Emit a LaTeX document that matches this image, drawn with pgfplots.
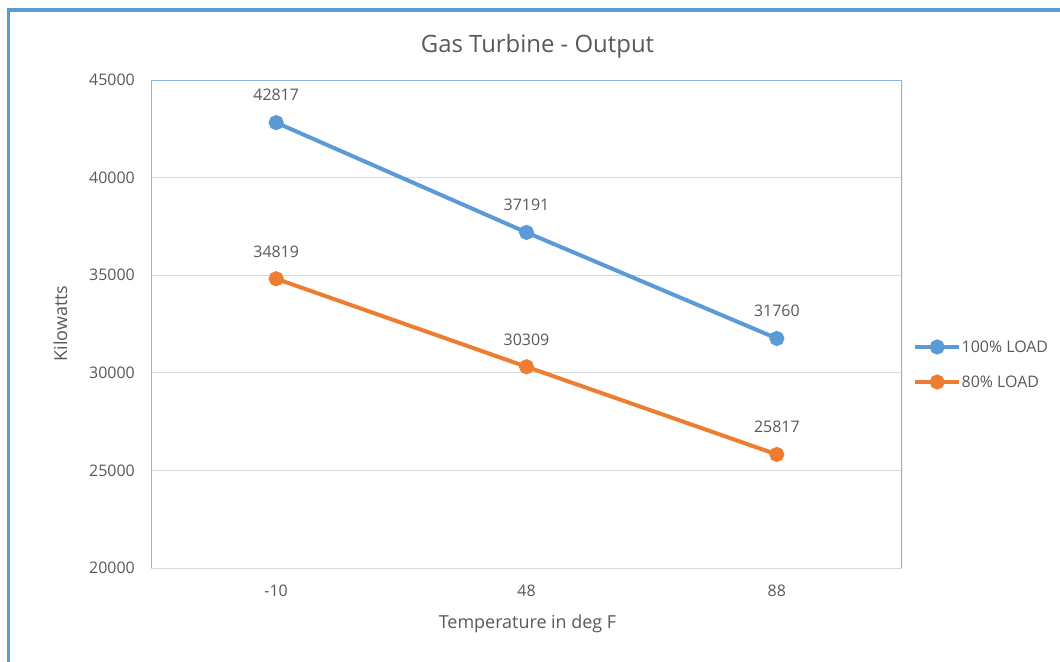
\documentclass[border=0pt]{standalone}
\usepackage{pgfplots}
\pgfplotsset{compat=1.18}
\usepackage{fontspec}
\setmainfont{Open Sans}
\definecolor{txt}{HTML}{595959}
\definecolor{sone}{HTML}{5B9BD5}
\definecolor{stwo}{HTML}{ED7D31}
\definecolor{gridc}{HTML}{D9D9D9}
\definecolor{framec}{HTML}{5B9BD5}
\definecolor{pac}{HTML}{8DB4E2}
\begin{document}
\begin{tikzpicture}
\path[use as bounding box] (0bp,0bp) rectangle (1060bp,-662bp);
\fill[white] (0bp,0bp) rectangle (1060bp,-662bp);
\draw[framec, line width=3.5bp] (8.5bp,-670bp) -- (8.5bp,-10bp) -- (1060bp,-10bp);
\node[anchor=base, font=\fontsize{24}{28}\selectfont, text=txt] at (537.5bp,-52bp) {Gas Turbine - Output};
\node[anchor=base, font=\fontsize{18}{22}\selectfont, text=txt] at (527.5bp,-628bp) {Temperature in deg F};
\node[anchor=base, rotate=90, font=\fontsize{18}{22}\selectfont, text=txt] at (67bp,-323.5bp) {Kilowatts};
\begin{axis}[
  at={(151bp,-568bp)}, anchor=south west,
  width=751bp, height=488bp, scale only axis,
  xmin=-0.5, xmax=2.5, ymin=20000, ymax=45000,
  xtick={0,1,2}, xticklabels={-10,48,88},
  ytick={20000,25000,30000,35000,40000,45000},
  scaled y ticks=false,
  ymajorgrids, grid style={gridc, line width=0.75bp},
  major tick length=0pt,
  axis line style={draw=none},
  /pgf/number format/assume math mode=true,
  /pgf/number format/1000 sep={},
  yticklabel style={font=\fontsize{16}{19}\selectfont, text=txt, inner sep=0pt, anchor=east, xshift=-16bp, /pgf/number format/fixed},
  xticklabel style={font=\fontsize{16}{19}\selectfont, text=txt, inner sep=0pt, anchor=north, yshift=-17bp},
  nodes near coords,
  every node near coord/.append style={font=\fontsize{16}{19}\selectfont, text=txt, inner sep=0pt, anchor=south, yshift=19.5bp},
  legend cell align=left,
  legend image code/.code={\draw[mark repeat=2,mark phase=2,#1] plot coordinates {(0bp,0bp) (22bp,0bp) (44bp,0bp)};},
  legend style={draw=none, fill=none, at={(1,0.417)}, anchor=west, xshift=11bp, inner sep=0pt,
    row sep=21bp, font=\fontsize{16}{19}\selectfont, text=txt, nodes={inner sep=0.5bp}},
]
\addplot[sone, line width=4bp, mark=*, mark size=5.5bp, mark options={solid, fill=sone, draw=sone}]
  coordinates {(0,42817) (1,37191) (2,31760)};
\addlegendentry{100\% LOAD}
\addplot[stwo, line width=4bp, mark=*, mark size=5.5bp, mark options={solid, fill=stwo, draw=stwo}]
  coordinates {(0,34819) (1,30309) (2,25817)};
\addlegendentry{80\% LOAD}
\draw[pac, line width=1.5bp] (rel axis cs:0,0) -- (rel axis cs:0,1) -- (rel axis cs:1,1) -- (rel axis cs:1,0);
\end{axis}
\end{tikzpicture}
\end{document}
